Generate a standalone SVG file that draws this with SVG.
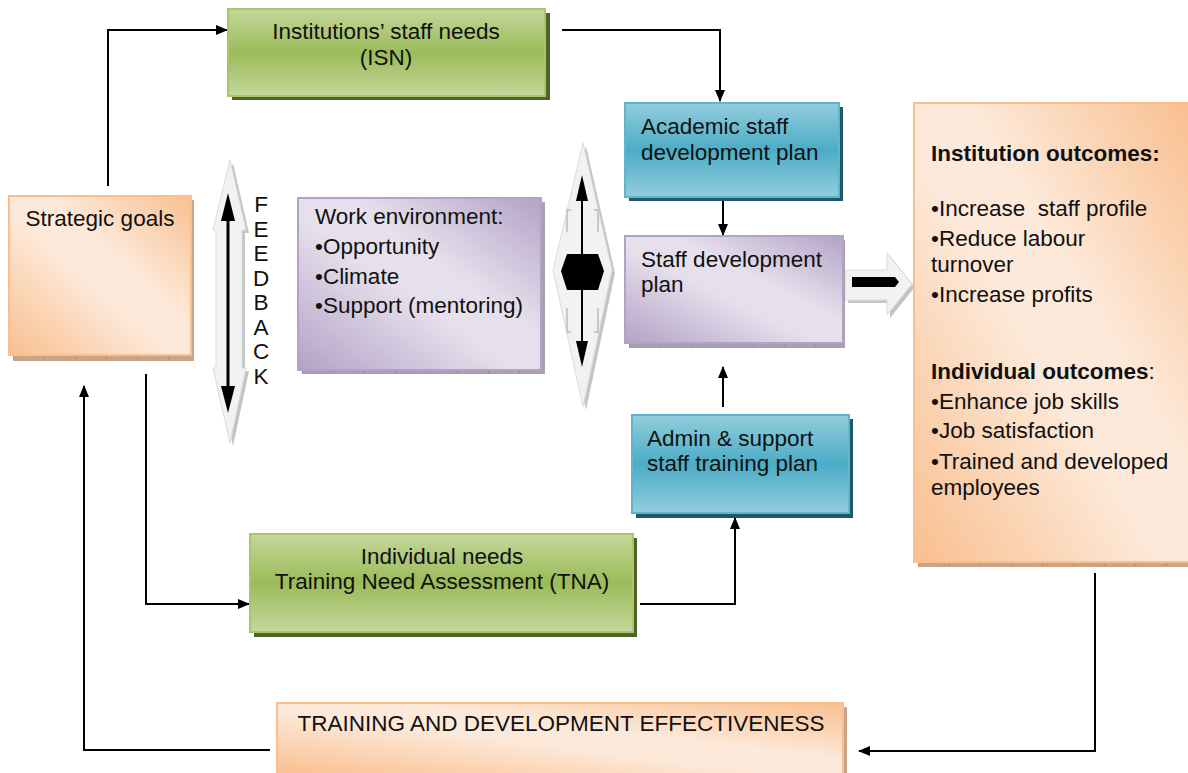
<svg xmlns="http://www.w3.org/2000/svg" width="1188" height="773" viewBox="0 0 1188 773">
  <defs>
    <style>
      text { font-family: "Liberation Sans", Arial, sans-serif; font-size: 22.5px; fill: #111; }
      .mid { text-anchor: middle; }
      .bold { font-weight: bold; }
      .wire { fill: none; stroke: #000; stroke-width: 2; }
      .green { fill: url(#gGreen); stroke: #a9c46c; stroke-width: 2; }
      .blue { fill: url(#gBlue); stroke: #5fb6cc; stroke-width: 2; }
      .purple { fill: url(#gPurple); stroke: #b3a2c7; stroke-width: 2; }
      .orange { fill: url(#gOrange); stroke: #f9bf8f; stroke-width: 2; }
      .shGreen { fill: #4f6228; }
      .shBlue { fill: #215968; }
      .shPurple { fill: #a8a0b0; }
      .shOrange { fill: #c9a487; }
      .tick { stroke: #8a6a55; stroke-width: 1; stroke-dasharray: 1 30; fill: none; }
      .tickP { stroke: #777; stroke-width: 1; stroke-dasharray: 1 30; fill: none; }
      .ghost { fill: #f2f2f2; stroke: #dcdcdc; stroke-width: 1; }
      .ghostSh { fill: #c4c4c4; }
      .notch { fill: none; stroke: #c8c8c8; stroke-width: 2; }
    </style>
    <linearGradient id="gGreen" x1="0" y1="0" x2="0" y2="1">
      <stop offset="0" stop-color="#c4d79b"/>
      <stop offset="0.5" stop-color="#9bbb59"/>
      <stop offset="1" stop-color="#c4d79b"/>
    </linearGradient>
    <linearGradient id="gBlue" x1="0" y1="0" x2="0" y2="1">
      <stop offset="0" stop-color="#93cddd"/>
      <stop offset="0.5" stop-color="#4bacc6"/>
      <stop offset="1" stop-color="#93cddd"/>
    </linearGradient>
    <linearGradient id="gPurple" x1="0" y1="1" x2="1" y2="0">
      <stop offset="0" stop-color="#b3a2c7"/>
      <stop offset="0.45" stop-color="#e6e0ec"/>
      <stop offset="0.6" stop-color="#e6e0ec"/>
      <stop offset="1" stop-color="#b3a2c7"/>
    </linearGradient>
    <linearGradient id="gOrange" x1="0" y1="1" x2="1" y2="0">
      <stop offset="0" stop-color="#f9bf8f"/>
      <stop offset="0.45" stop-color="#fde9d9"/>
      <stop offset="0.6" stop-color="#fde9d9"/>
      <stop offset="1" stop-color="#f9bf8f"/>
    </linearGradient>
    <marker id="arr" viewBox="0 0 12 10" refX="11" refY="5" markerWidth="12" markerHeight="10" markerUnits="userSpaceOnUse" orient="auto">
      <path d="M0,0 L12,5 L0,10 z" fill="#000"/>
    </marker>
  </defs>

  <rect width="1188" height="773" fill="#fff"/>

  <!-- connectors -->
  <g id="connectors">
    <path class="wire" d="M108,186 V30 H227" marker-end="url(#arr)"/>
    <path class="wire" d="M562,30 H720 V101" marker-end="url(#arr)"/>
    <path class="wire" d="M723,198 V235" marker-end="url(#arr)"/>
    <path class="wire" d="M723,407 V367" marker-end="url(#arr)"/>
    <path class="wire" d="M640,604 H735 V518" marker-end="url(#arr)"/>
    <path class="wire" d="M146,374 V604 H249" marker-end="url(#arr)"/>
    <path class="wire" d="M1095,573 V751 H859" marker-end="url(#arr)"/>
    <path class="wire" d="M270,750 H84 V386" marker-end="url(#arr)"/>
  </g>

  <!-- feedback double arrow -->
  <g id="feedback">
    <polygon class="ghostSh" points="233,163 249,233 245,233 245,371 249,371 233,446 216,371 219,371 219,233 216,233"/>
    <polygon class="ghost" points="230,160 246,230 242,230 242,368 246,368 230,443 213,368 216,368 216,230 213,230"/>
    <line x1="228" y1="218" x2="228" y2="390" stroke="#000" stroke-width="3"/>
    <polygon points="228,193 221,221 235,221" fill="#000"/>
    <polygon points="228,413 221,386 235,386" fill="#000"/>
    <text x="261" y="212" class="mid">F</text>
    <text x="261" y="237" class="mid">E</text>
    <text x="261" y="261" class="mid">E</text>
    <text x="261" y="286" class="mid">D</text>
    <text x="261" y="310" class="mid">B</text>
    <text x="261" y="335" class="mid">A</text>
    <text x="261" y="359" class="mid">C</text>
    <text x="261" y="384" class="mid">K</text>
  </g>

  <!-- central two-way arrow -->
  <g id="exchange">
    <polygon class="ghostSh" points="586,146 615,273 586,410 556,273"/>
    <polygon class="ghost" points="583,143 612,270 583,407 553,270"/>
    <path class="notch" d="M567,232 V210 H571 M598,232 V210 H594 M567,308 V332 H571 M598,308 V332 H594"/>
    <line x1="582" y1="198" x2="582" y2="344" stroke="#000" stroke-width="2"/>
    <polygon points="582,175 576,201 588,201" fill="#000"/>
    <polygon points="582,367 576,341 588,341" fill="#000"/>
    <polygon points="561,271 567,254 598,254 604,271 598,290 567,290" fill="#000"/>
  </g>

  <!-- block arrow to outcomes -->
  <g id="to-outcomes">
    <polygon class="ghostSh" points="848,273 890,273 890,256 915,287 890,318 890,303 848,303"/>
    <polygon class="ghost" points="845,270 887,270 887,253 912,284 887,315 887,300 845,300"/>
    <polygon points="852,277 895,277 899,282 895,287 852,287" fill="#000"/>
  </g>

  <!-- Strategic goals -->
  <g id="strategic-goals">
    <rect class="shOrange" x="13" y="200" width="181" height="161"/>
    <line class="tick" x1="13" y1="358" x2="194" y2="358"/>
    <rect class="orange" x="9" y="196" width="182" height="159"/>
    <text x="100" y="226" class="mid">Strategic goals</text>
  </g>

  <!-- Institutions' staff needs -->
  <g id="isn">
    <rect class="shGreen" x="232" y="13" width="318" height="87"/>
    <rect class="green" x="228" y="9" width="317" height="87"/>
    <text x="386" y="39" class="mid">Institutions’ staff needs</text>
    <text x="386" y="65" class="mid">(ISN)</text>
  </g>

  <!-- Work environment -->
  <g id="work-environment">
    <rect class="shPurple" x="302" y="202" width="243" height="172"/>
    <line class="tickP" x1="302" y1="372" x2="545" y2="372"/>
    <rect class="purple" x="298" y="198" width="243" height="172"/>
    <text x="315" y="224">Work environment:</text>
    <text x="315" y="254">•Opportunity</text>
    <text x="315" y="284">•Climate</text>
    <text x="315" y="313">•Support (mentoring)</text>
  </g>

  <!-- Academic staff development plan -->
  <g id="academic-plan">
    <rect class="shBlue" x="629" y="107" width="214" height="94"/>
    <rect class="blue" x="625" y="103" width="214" height="94"/>
    <text x="641" y="134">Academic staff</text>
    <text x="641" y="160">development plan</text>
  </g>

  <!-- Staff development plan -->
  <g id="staff-plan">
    <rect class="shPurple" x="629" y="240" width="216" height="108"/>
    <line class="tickP" x1="629" y1="346" x2="845" y2="346"/>
    <rect class="purple" x="625" y="236" width="218" height="107"/>
    <text x="641" y="267">Staff development</text>
    <text x="641" y="292">plan</text>
  </g>

  <!-- Admin & support staff training plan -->
  <g id="admin-plan">
    <rect class="shBlue" x="636" y="419" width="217" height="99"/>
    <rect class="blue" x="632" y="415" width="217" height="98"/>
    <text x="647" y="446">Admin &amp; support</text>
    <text x="647" y="471">staff training plan</text>
  </g>

  <!-- Individual needs / TNA -->
  <g id="tna">
    <rect class="shGreen" x="254" y="538" width="383" height="99"/>
    <rect class="green" x="250" y="534" width="383" height="98"/>
    <text x="442" y="564" class="mid">Individual needs</text>
    <text x="442" y="589" class="mid">Training Need Assessment (TNA)</text>
  </g>

  <!-- Outcomes -->
  <g id="outcomes">
    <rect class="shOrange" x="918" y="107" width="270" height="460"/>
    <line class="tick" x1="918" y1="565" x2="1188" y2="565"/>
    <rect class="orange" x="914" y="103" width="276" height="459"/>
    <text x="931" y="161" class="bold">Institution outcomes:</text>
    <text x="931" y="216" xml:space="preserve">•Increase  staff profile</text>
    <text x="931" y="246">•Reduce labour</text>
    <text x="931" y="272">turnover</text>
    <text x="931" y="302">•Increase profits</text>
    <text x="931" y="379"><tspan class="bold">Individual outcomes</tspan>:</text>
    <text x="931" y="409">•Enhance job skills</text>
    <text x="931" y="438">•Job satisfaction</text>
    <text x="931" y="469">•Trained and developed</text>
    <text x="931" y="495">employees</text>
  </g>

  <!-- Training and development effectiveness -->
  <g id="effectiveness">
    <rect class="shOrange" x="281" y="707" width="566" height="70"/>
    <rect class="orange" x="277" y="703" width="566" height="72"/>
    <text x="561" y="731" class="mid">TRAINING AND DEVELOPMENT EFFECTIVENESS</text>
  </g>
</svg>
